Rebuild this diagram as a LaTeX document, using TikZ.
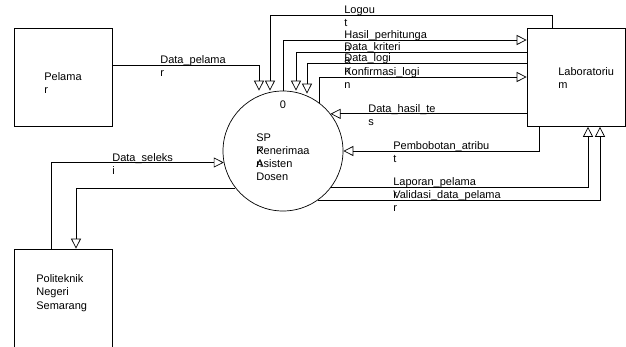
\documentclass[tikz,border=0pt]{standalone}
\usepackage{fontspec}
\setmainfont{Liberation Sans}
\usetikzlibrary{arrows.meta}
\newcommand\wrapped[2]{\vtop{\hbox{#1}\hbox{#2}}}
\begin{document}
\begin{tikzpicture}[x=1pt,y=-1pt,every node/.style={font=\fontsize{11}{13}\selectfont,inner sep=0pt},line join=miter,line width=0.7pt,
	entitas/.style={draw,minimum width=98pt,minimum height=98pt},
	proses/.style={draw,circle,minimum size=120pt},
	aliran/.style={-{Triangle[open,length=10pt,width=10pt]}},
	lbl/.style={anchor=base west}]
	\clip (0,0) rectangle (626,347);
	% entitas luar dan proses
	\node[entitas] (pelamar) at (63,77) {};
	\node[entitas] (lab) at (576,77.5) {};
	\node[entitas] (poltek) at (63,298) {};
	\node[proses] (sp) at (283,151) {};
	\node[lbl] (pelamar-t) at (44,81) {\wrapped{Pelama}{r}};
	\node[lbl] (lab-t) at (558,76) {\wrapped{Laboratoriu}{m}};
	\node[lbl] (poltek-t) at (36,283) {\vtop{\hbox{Politeknik}\hbox{Negeri}\hbox{Semarang}}};
	\node[anchor=base] (sp-no) at (283,109) {0};
	\node[lbl] (sp-t) at (256,142) {\vtop{\hbox{SP}\hbox{\rlap{K}Penerimaa}\hbox{\rlap{n}Asisten}\hbox{Dosen}}};
	% aliran data
	\draw[aliran] (pelamar.east |- 0,65) -| (sp.north -| 259,0);
	\draw[aliran] (lab.north -| 552,0) -- ++(0,-13) -| (sp.north -| 270,0);
	\draw[aliran] (sp.north) |- (lab.west |- 0,40);
	\draw[aliran] (lab.west |- 0,52) -| (sp.north -| 296,0);
	\draw[aliran] (lab.west |- 0,63) -| ([yshift=-3pt]sp.north -| 307,0);
	\draw[aliran] (sp.53) |- (lab.west |- 0,77);
	\draw[aliran] (lab.west |- sp.38) -- (sp.38);
	\draw[aliran] (lab.south -| 539,0) |- (sp.east);
	\draw[aliran] (sp.-37) -| (lab.south -| 588,0);
	\draw[aliran] (sp.-55) -| (lab.south -| 600,0);
	\draw[aliran] (poltek.north -| 51,0) |- (sp.191);
	\draw[aliran] (sp.218) -| (poltek.north -| 76,0);
	% label aliran
	\node[lbl] (l-pelamar) at (160,64) {\wrapped{Data\_pelama}{r}};
	\node[lbl] (l-logout) at (344,14) {\wrapped{Logou}{t}};
	\node[lbl] (l-hasil) at (344,39) {\wrapped{Hasil\_perhitunga}{n}};
	\node[lbl] (l-kriteria) at (344,51) {\wrapped{Data\_kriteri}{a}};
	\node[lbl] (l-login) at (344,62) {\wrapped{Data\_logi}{n}};
	\node[lbl] (l-konfirmasi) at (344,76) {\wrapped{Konfirmasi\_logi}{n}};
	\node[lbl] (l-tes) at (368,113) {\wrapped{Data\_hasil\_te}{s}};
	\node[lbl] (l-bobot) at (393,150) {\wrapped{Pembobotan\_atribu}{t}};
	\node[lbl] (l-laporan) at (393,186) {\wrapped{Laporan\_pelama}{r}};
	\node[lbl] (l-validasi) at (393,199) {\wrapped{Validasi\_data\_pelama}{r}};
	\node[lbl] (l-seleksi) at (112,162) {\wrapped{Data\_seleks}{i}};
\end{tikzpicture}
\end{document}
